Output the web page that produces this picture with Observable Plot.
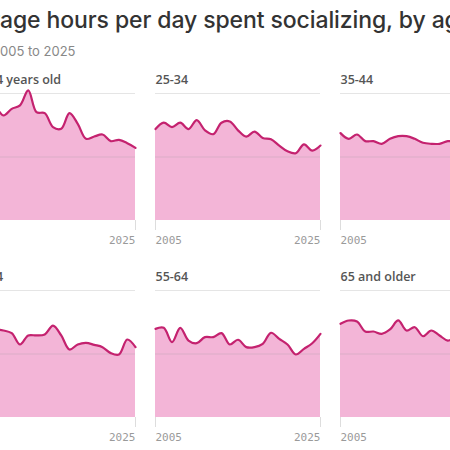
<!DOCTYPE html>
<html>
<head>
<meta charset="utf-8">
<script src="https://cdn.jsdelivr.net/npm/d3@7"></script>
<script src="https://cdn.jsdelivr.net/npm/@observablehq/plot@0.6"></script>
<style>
  html, body { margin: 0; padding: 0; background: #fff; }
  body { width: 450px; height: 450px; overflow: hidden; position: relative; font-family: Inter, "Noto Sans", sans-serif; }
  .title { position: absolute; left: 0; top: 9px; font-size: 23px; line-height: 22px; font-weight: 500; color: #333; white-space: nowrap; letter-spacing: -0.1px; }
  .subtitle { position: absolute; left: 0; top: 45px; font-size: 13px; line-height: 12px; color: #888; white-space: nowrap; }
  .pre { position: absolute; right: 100%; }
  #chart { position: absolute; left: -30px; top: 60px; width: 535px; }
  #chart svg { max-width: none !important; }
</style>
</head>
<body>
<div class="title"><span class="pre">Aver</span>age hours per day spent socializing, by age</div>
<div class="subtitle"><span class="pre">2</span>005 to 2025</div>
<div id="chart"></div>
<script>
// Years (x values)
const years = [2005, 2006, 2007, 2008, 2009, 2010, 2011, 2012, 2013, 2014, 2015,
               2016, 2017, 2018, 2019, 2020, 2021, 2022, 2023, 2024, 2025];

// Age groups (panel labels)
const groups = ["15-24 years old", "25-34", "35-44", "45-54", "55-64", "65 and older"];

// Average hours per day spent socializing, per age group
const v15_24 = [1.02, 0.98, 0.95, 0.90, 0.827, 0.879, 0.906, 1.024, 0.853, 0.845, 0.735,
                0.722, 0.845, 0.761, 0.643, 0.661, 0.677, 0.625, 0.635, 0.609, 0.572];
const v25_34 = [0.72, 0.77, 0.735, 0.77, 0.72, 0.79, 0.71, 0.68, 0.77, 0.78, 0.71,
                0.66, 0.70, 0.65, 0.64, 0.59, 0.545, 0.53, 0.60, 0.55, 0.59];
const v35_44 = [0.688, 0.643, 0.677, 0.625, 0.625, 0.604, 0.643, 0.664, 0.664, 0.643, 0.612,
                0.604, 0.604, 0.625, 0.62, 0.60, 0.57, 0.58, 0.60, 0.59, 0.60];
const v45_54 = [0.68, 0.70, 0.66, 0.69, 0.685, 0.664, 0.575, 0.646, 0.646, 0.654, 0.724,
                0.646, 0.535, 0.575, 0.588, 0.572, 0.554, 0.507, 0.496, 0.614, 0.554];
const v55_64 = [0.698, 0.706, 0.593, 0.706, 0.606, 0.585, 0.633, 0.633, 0.664, 0.575, 0.612,
                0.554, 0.554, 0.580, 0.667, 0.619, 0.575, 0.496, 0.541, 0.585, 0.659];
const v65 = [0.738, 0.764, 0.756, 0.677, 0.677, 0.659, 0.693, 0.764, 0.685, 0.711, 0.640,
             0.685, 0.646, 0.606, 0.63, 0.62, 0.64, 0.60, 0.64, 0.66, 0.68];

// Gridline values and x tick labels
const gridValues = [0.5, 1];
const startTick = [2005];
const endTick = [2025];

const seriesValues = [v15_24, v25_34, v35_44, v45_54, v55_64, v65];

const panels = groups.map((g, i) => ({label: g, col: i % 3, row: Math.floor(i / 3)}));
const data = [];
groups.forEach((g, i) => {
  years.forEach((yr, j) => {
    data.push({year: yr, value: seriesValues[i][j], col: i % 3, row: Math.floor(i / 3)});
  });
});

const pink = "#f3b5d7";
const magenta = "#c4226f";
const mono = "'DejaVu Sans Mono', monospace";

const chart = Plot.plot({
  width: 535,
  height: 387,
  marginLeft: 0,
  marginRight: 0,
  marginTop: 33,
  marginBottom: 30,
  style: {background: "transparent", overflow: "visible", maxWidth: "none"},
  x: {domain: [2005, 2025], axis: null},
  y: {domain: [0, 1], axis: null},
  fx: {domain: [0, 1, 2], axis: null, paddingInner: 20 / 185, paddingOuter: 0},
  fy: {domain: [0, 1], axis: null, paddingInner: 70 / 197, paddingOuter: 0},
  marks: [
    Plot.areaY(data, {x: "year", y: "value", fx: "col", fy: "row", fill: pink, curve: "catmull-rom"}),
    Plot.ruleY(gridValues, {stroke: "#999", strokeOpacity: 0.25, strokeWidth: 1}),
    Plot.lineY(data, {x: "year", y: "value", fx: "col", fy: "row", stroke: magenta, strokeWidth: 2.2, curve: "catmull-rom"}),
    Plot.axisX({ticks: [2005, 2025], tickSize: 10, tickFormat: () => "", label: null, stroke: "#ddd", facetAnchor: null}),
    Plot.text(startTick, {x: d => d, frameAnchor: "bottom", dy: 23, textAnchor: "start", fill: "#9a9a9a", fontSize: 11, fontFamily: mono, text: d => String(d)}),
    Plot.text(endTick, {x: d => d, frameAnchor: "bottom", dy: 23, textAnchor: "end", fill: "#9a9a9a", fontSize: 11, fontFamily: mono, text: d => String(d)}),
    Plot.text(panels, {fx: "col", fy: "row", text: "label", frameAnchor: "top-left", dy: -18, textAnchor: "start", fontSize: 12.5, fontWeight: 600, fill: "#555", fontFamily: "'Open Sans', sans-serif"})
  ]
});
document.getElementById("chart").appendChild(chart);
</script>
</body>
</html>
